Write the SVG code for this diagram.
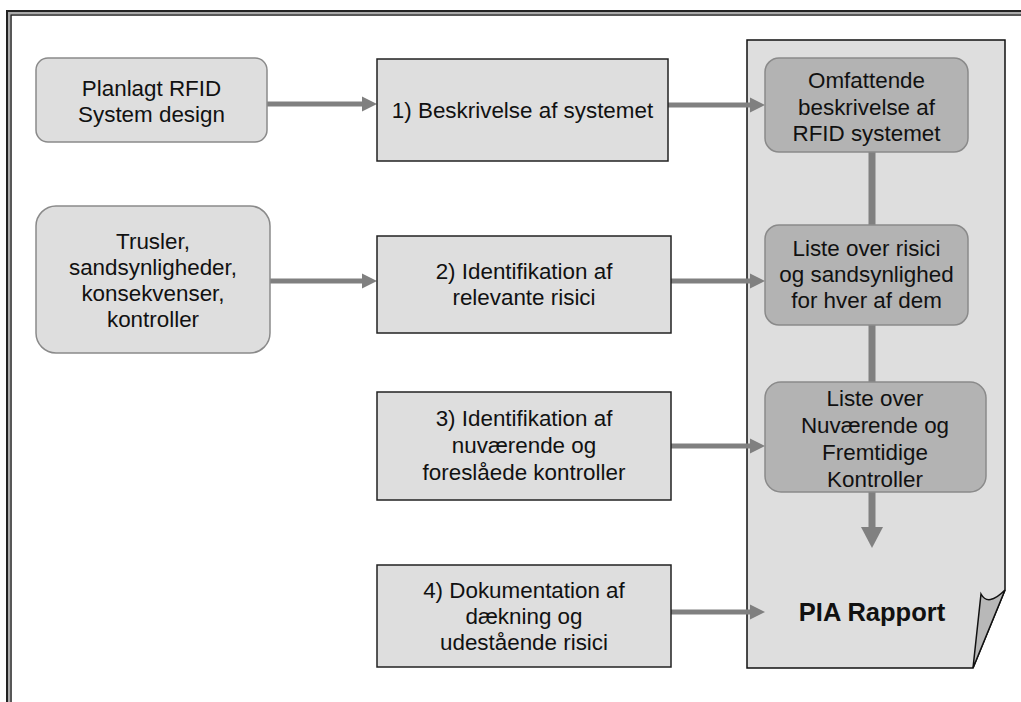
<svg xmlns="http://www.w3.org/2000/svg" width="1021" height="702" viewBox="0 0 1021 702">
<defs>
<style>
text{font-family:"Liberation Sans",Arial,sans-serif;font-size:22.4px;fill:#111;text-anchor:middle}
.b{font-weight:bold;font-size:25.5px}
.lite{fill:#dedede;stroke:#8a8a8a;stroke-width:1.5}
.dark{fill:#b3b3b3;stroke:#8a8a8a;stroke-width:1.5}
.sq{fill:#dedede;stroke:#222;stroke-width:1.5}
.ln{stroke:#808080;stroke-width:5;fill:none}
.vl{stroke:#808080;stroke-width:7;fill:none}
.ah{fill:#808080}
</style>
</defs>
<rect width="1021" height="702" fill="#fff"/>
<g id="frame" fill="none">
<path d="M9,702 V13 H1021" stroke="#aaa" stroke-width="2"/>
<path d="M7,702 V11 H1021" stroke="#222" stroke-width="2"/>
<path d="M11,702 V15 H1021" stroke="#222" stroke-width="1.5"/>
</g>
<g id="report">
<path d="M747,40 H1005 V590 L973,668 H747 Z" fill="#dedede" stroke="#111" stroke-width="1.5"/>
<path d="M973,668 L981,594 Q988,607 1005,590 Z" fill="#b8b8b8" stroke="#111" stroke-width="1.5"/>
<text class="b" x="872" y="621">PIA Rapport</text>
</g>
<g id="connectors">
<path class="ln" d="M267,104 H363"/><polygon class="ah" points="362,96.5 377,104 362,111.5"/>
<path class="ln" d="M668,105 H751"/><polygon class="ah" points="750,97.5 765,105 750,112.5"/>
<path class="ln" d="M270,281 H363"/><polygon class="ah" points="362,273.5 377,281 362,288.5"/>
<path class="ln" d="M671,281 H751"/><polygon class="ah" points="750,273.5 765,281 750,288.5"/>
<path class="ln" d="M671,446 H751"/><polygon class="ah" points="750,438.5 765,446 750,453.5"/>
<path class="ln" d="M671,612 H751"/><polygon class="ah" points="750,604.5 765,612 750,619.5"/>
<path class="vl" d="M872,152 V225"/>
<path class="vl" d="M872,325 V382"/>
<path class="vl" d="M872,492 V528" stroke-width="8"/><polygon class="ah" points="861,527 883,527 872,548"/>
</g>
<g id="n-planlagt">
<rect class="lite" x="36" y="58" width="231" height="84" rx="12"/>
<text x="151.5" y="96">Planlagt RFID</text>
<text x="151.5" y="122">System design</text>
</g>
<g id="n-trusler">
<rect class="lite" x="36" y="206" width="234" height="147" rx="20"/>
<text x="153" y="249">Trusler,</text>
<text x="153" y="275">sandsynligheder,</text>
<text x="153" y="301">konsekvenser,</text>
<text x="153" y="327">kontroller</text>
</g>
<g id="n-step1">
<rect class="sq" x="377" y="59" width="291" height="102"/>
<text x="522.5" y="118">1) Beskrivelse af systemet</text>
</g>
<g id="n-step2">
<rect class="sq" x="377" y="236" width="294" height="97"/>
<text x="524" y="279">2) Identifikation af</text>
<text x="524" y="305">relevante risici</text>
</g>
<g id="n-step3">
<rect class="sq" x="377" y="392" width="294" height="108"/>
<text x="524" y="426">3) Identifikation af</text>
<text x="524" y="453">nuværende og</text>
<text x="524" y="480">foreslåede kontroller</text>
</g>
<g id="n-step4">
<rect class="sq" x="377" y="565" width="294" height="102"/>
<text x="524" y="598">4) Dokumentation af</text>
<text x="524" y="624">dækning og</text>
<text x="524" y="650">udestående risici</text>
</g>
<g id="n-omfattende">
<rect class="dark" x="765" y="58" width="203" height="94" rx="14"/>
<text x="866.5" y="88">Omfattende</text>
<text x="866.5" y="115">beskrivelse af</text>
<text x="866.5" y="141">RFID systemet</text>
</g>
<g id="n-risici">
<rect class="dark" x="765" y="225" width="203" height="100" rx="14"/>
<text x="866.5" y="256">Liste over risici</text>
<text x="866.5" y="282">og sandsynlighed</text>
<text x="866.5" y="308">for hver af dem</text>
</g>
<g id="n-kontroller">
<rect class="dark" x="765" y="382" width="221" height="110" rx="16"/>
<text x="875" y="406">Liste over</text>
<text x="875" y="433">Nuværende og</text>
<text x="875" y="460">Fremtidige</text>
<text x="875" y="487">Kontroller</text>
</g>
</svg>
